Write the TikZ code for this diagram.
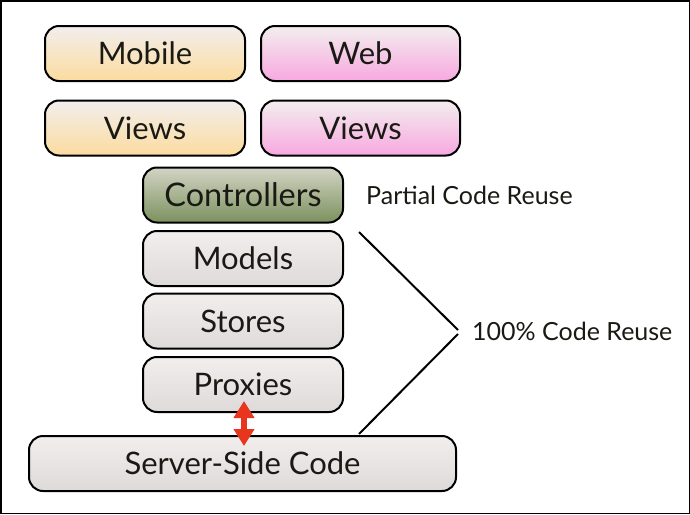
\documentclass[tikz,border=0pt]{standalone}
\usepackage{fontspec}
\setmainfont{Lato}
\usetikzlibrary{arrows.meta,calc}
\definecolor{txt}{HTML}{1A1A14}
\definecolor{topgray}{HTML}{F2EEEE}
\definecolor{botgray}{HTML}{DEDADA}
\definecolor{orangebot}{HTML}{FCDC9E}
\definecolor{pinkbot}{HTML}{F8A8E0}
\definecolor{greentop}{HTML}{D2D4C4}
\definecolor{greenbot}{HTML}{7C915E}
\definecolor{arrowred}{HTML}{E8361E}
\tikzset{
  layer/.style={draw=black, line width=2pt, rounded corners=14pt,
    minimum height=55pt, inner sep=0pt, text=txt,
    font=\fontsize{31}{31}\selectfont},
  graylayer/.style={layer, top color=topgray, bottom color=botgray, minimum width=200pt},
  orangelayer/.style={layer, top color=topgray, bottom color=orangebot, minimum width=200pt},
  pinklayer/.style={layer, top color=topgray, bottom color=pinkbot, minimum width=199pt},
  greenlayer/.style={layer, top color=greentop, bottom color=greenbot, minimum width=200pt},
  note/.style={text=txt, font=\fontsize{25}{25}\selectfont, inner sep=0pt},
  bracket/.style={draw=black, line width=2pt},
  biarrow/.style={draw=arrowred, line width=5.5pt,
    {Triangle[length=17pt,width=20pt]}-{Triangle[length=17pt,width=20pt]}}
}
\begin{document}
\begin{tikzpicture}[x=1pt,y=-1pt]
\useasboundingbox (0,0) rectangle (690,514);
\draw[line width=1.5pt] (0.75,0.75) rectangle (689.25,513.25);
\node[orangelayer] (mobile) at (145,53.5) {Mobile};
\node[pinklayer] (web) at (360.5,53.5) {Web};
\node[orangelayer] (mviews) at (145,128) {Views};
\node[pinklayer] (wviews) at (360.5,128) {Views};
\node[greenlayer, font=\fontsize{32.5}{32.5}\selectfont] (ctrl) at (243,195) {Controllers};
\node[graylayer] (models) at (243,258.5) {Models};
\node[graylayer] (stores) at (243,321) {Stores};
\node[graylayer] (prox) at (243,384.5) {Proxies};
\node[graylayer, minimum width=427pt] (server) at (242.5,463.5) {Server-Side Code};
\node[note, anchor=west] (partial) at (366,195) {Partial Code Reuse};
\node[note, anchor=west] (full) at (472,331) {100\% Code Reuse};
\coordinate (top) at (359,232);
\coordinate (apex1) at (458,330);
\coordinate (apex2) at (458,334);
\coordinate (bot) at (359,434);
\draw[bracket] (top) -- (apex1);
\draw[bracket] (apex2) -- (bot);
\draw[biarrow, shorten <=-12pt, shorten >=-11pt] ($(prox.south)+(1,0)$) -- ($(server.north)+(1.5,0)$);
\end{tikzpicture}
\end{document}
